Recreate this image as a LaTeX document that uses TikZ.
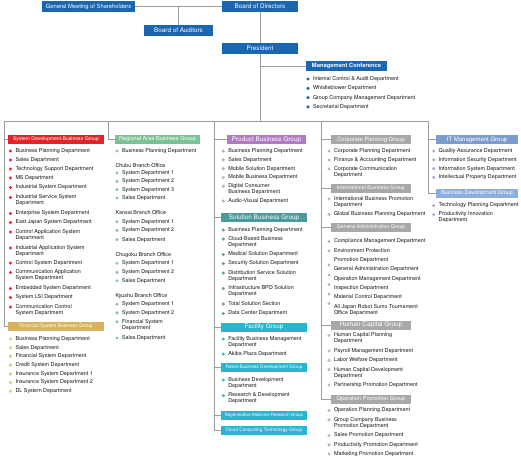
\documentclass[tikz,border=0pt]{standalone}
\usepackage{fontspec}
\setmainfont{TeX Gyre Heros}
\definecolor{topblue}{HTML}{1B66B1}
\definecolor{sdred}{HTML}{E22328}
\definecolor{fingold}{HTML}{D8B35E}
\definecolor{finb}{HTML}{E2C47A}
\definecolor{reggreen}{HTML}{7CC195}
\definecolor{regb}{HTML}{86C79E}
\definecolor{prodpurple}{HTML}{B07BC1}
\definecolor{prodb}{HTML}{C8A2D6}
\definecolor{solteal}{HTML}{4B9A9D}
\definecolor{solb}{HTML}{5AA3A6}
\definecolor{cyanh}{HTML}{27B5D0}
\definecolor{cyanb}{HTML}{3DBBD5}
\definecolor{grayh}{HTML}{A8A8A8}
\definecolor{grayb}{HTML}{B8B8B8}
\definecolor{ith}{HTML}{7C9CCF}
\definecolor{itb}{HTML}{9AB2DA}
\definecolor{bdh}{HTML}{8DAFE0}
\definecolor{linegray}{HTML}{9C9C9C}
\definecolor{txt}{HTML}{111111}
\tikzset{
  ln/.style={draw=linegray, line width=0.7pt},
  hbox/.style={anchor=north west, inner sep=0pt, outer sep=0pt, text=white, align=center},
  bul/.style={circle, inner sep=0pt, outer sep=0pt, minimum size=3.4pt},
  itx/.style={anchor=west, inner sep=0pt, outer sep=0pt, align=left, text=txt, font=\fontsize{5.4}{6}\selectfont},
}
\newcounter{nn}
% name, x, y, width, height, colour, font size, text
\newcommand\hdr[8]{\node[hbox, fill=#6, minimum width=#4pt, minimum height=#5pt, font=\fontsize{#7}{#7}\selectfont] (#1) at (#2,#3) {#8};}
\newcommand\itm[4]{\stepcounter{nn}\node[bul, fill=#3] (b\thenn) at (#1,#2) {};\node[itx] (t\thenn) at (#1+5,#2) {#4};}
\newcommand\itmm[5]{\stepcounter{nn}\node[bul, fill=#3] (b\thenn) at (#1,#2) {};\node[itx] (t\thenn) at (#1+5,#2+3) {#4\\#5};}
\newcommand\lbl[3]{\stepcounter{nn}\node[itx] (l\thenn) at (#1,#2) {#3};}
\newcommand\bulo[3]{\stepcounter{nn}\node[bul, fill=#3] (o\thenn) at (#1,#2) {};}
\begin{document}
\begin{tikzpicture}[x=1pt,y=-1pt]
\useasboundingbox (0,0) rectangle (521,459);
\fill[white] (0,0) rectangle (521,459);
% ---- top
\hdr{gms}{42}{1}{93}{11}{topblue}{5.8}{General Meeting of Shareholders}
\hdr{bod}{222}{1}{76}{11}{topblue}{6.3}{Board of Directors}
\hdr{aud}{144}{24.5}{69}{11}{topblue}{6.3}{Board of Auditors}
\hdr{pres}{222}{42.5}{76}{11}{topblue}{6.3}{President}
\hdr{mgmt}{306}{61}{81}{10}{topblue}{5.8}{\bfseries Management Conference}
\itm{308}{79}{topblue}{Internal Control \& Audit Department}
\itm{308}{88.3}{topblue}{Whistleblower Department}
\itm{308}{97.6}{topblue}{Group Company Management Department}
\itm{308}{106.9}{topblue}{Secretarial Department}
% ---- bus coordinates
\coordinate (k1) at (4,121);
\coordinate (k2) at (108,121);
\coordinate (k3) at (214,121);
\coordinate (k4) at (321,121);
\coordinate (k5) at (428,121);
\coordinate (kp) at (260,121);
% ---- column 1
\hdr{sysdev}{8}{135}{96}{9}{sdred}{5.1}{System Development Business Group}
\itm{10.5}{151}{sdred}{Business Planning Department}
\itm{10.5}{160}{sdred}{Sales Department}
\itm{10.5}{169}{sdred}{Technology Support Department}
\itm{10.5}{178}{sdred}{MS Department}
\itm{10.5}{187.5}{sdred}{Industrial System Department}
\itmm{10.5}{197.5}{sdred}{Industrial Service System}{Department}
\itm{10.5}{213.5}{sdred}{Enterprise System Department}
\itm{10.5}{222.5}{sdred}{East Japan System Department}
\itmm{10.5}{232}{sdred}{Control Application System}{Department}
\itmm{10.5}{248}{sdred}{Industrial Application System}{Department}
\itm{10.5}{263}{sdred}{Control System Department}
\itmm{10.5}{272.5}{sdred}{Communication Application}{System Department}
\itm{10.5}{288.5}{sdred}{Embedded System Department}
\itm{10.5}{297.5}{sdred}{System LSI Department}
\itmm{10.5}{307}{sdred}{Communication Control}{System Department}
\hdr{fin}{8}{322}{96}{9}{fingold}{4.9}{Financial System Business Group}
\itm{10.5}{339}{finb}{Business Planning Department}
\itm{10.5}{347.7}{finb}{Sales Department}
\itm{10.5}{356.4}{finb}{Financial System Department}
\itm{10.5}{365.1}{finb}{Credit System Department}
\itm{10.5}{373.8}{finb}{Insurance System Department 1}
\itm{10.5}{382.5}{finb}{Insurance System Department 2}
\itm{10.5}{391.2}{finb}{DL System Department}
% ---- column 2
\hdr{regional}{115}{135}{85}{9}{reggreen}{5.6}{Regional Area Business Group}
\itm{117}{151}{regb}{Business Planning Department}
\lbl{115.5}{165.5}{Chubu Branch Office}
\itm{117}{173}{regb}{System Department 1}
\itm{117}{181.3}{regb}{System Department 2}
\itm{117}{189.6}{regb}{System Department 3}
\itm{117}{198}{regb}{Sales Department}
\lbl{115.5}{212.9}{Kansai Branch Office}
\itm{117}{221.7}{regb}{System Department 1}
\itm{117}{230.4}{regb}{System Department 2}
\itm{117}{239.6}{regb}{Sales Department}
\lbl{115.5}{254.9}{Chugoku Branch Office}
\itm{117}{263.2}{regb}{System Department 1}
\itm{117}{272.4}{regb}{System Department 2}
\itm{117}{280.7}{regb}{Sales Department}
\lbl{115.5}{296}{Kyushu Branch Office}
\itm{117}{304.2}{regb}{System Department 1}
\itm{117}{312.9}{regb}{System Department 2}
\itmm{117}{321.7}{regb}{Financial System}{Department}
\itm{117}{338}{regb}{Sales Department}
% ---- column 3
\hdr{product}{227}{135}{79}{9}{prodpurple}{6.4}{Product Business Group}
\itm{223.3}{151}{prodb}{Business Planning Department}
\itm{223.3}{159.8}{prodb}{Sales Department}
\itm{223.3}{168.6}{prodb}{Mobile Solution Department}
\itm{223.3}{177.4}{prodb}{Mobile Business Department}
\itmm{223.3}{186.2}{prodb}{Digital Consumer}{Business Department}
\itm{223.3}{201}{prodb}{Audio-Visual Department}
\hdr{solution}{221}{213}{86}{9}{solteal}{6.4}{Solution Business Group}
\itm{223.3}{230}{solb}{Business Planning Department}
\itmm{223.3}{239}{solb}{Cloud-Based Business}{Department}
\itm{223.3}{254.5}{solb}{Medical Solution Department}
\itm{223.3}{263.5}{solb}{Security Solution Department}
\itmm{223.3}{273}{solb}{Distribution Service Solution}{Department}
\itmm{223.3}{288.5}{solb}{Infrastructure BPO Solution}{Department}
\itm{223.3}{304}{solb}{Total Solution Section}
\itm{223.3}{313.5}{solb}{Data Center Department}
\hdr{facility}{221}{322.5}{86}{9}{cyanh}{6.3}{Facility Group}
\itmm{223.3}{339}{cyanb}{Facility Business Management}{Department}
\itm{223.3}{354}{cyanb}{Akiba Plaza Department}
\hdr{robot}{221}{363}{86}{9}{cyanh}{4.75}{Robot Business Development Group}
\itmm{223.3}{380}{cyanb}{Business Development}{Department}
\itmm{223.3}{395.5}{cyanb}{Research \& Development}{Department}
\hdr{regen}{221}{411}{86}{9}{cyanh}{4.4}{Regenerative Medicine Research Group}
\hdr{cloud}{221}{426}{86}{9}{cyanh}{4.75}{Cloud Computing Technology Group}
% ---- column 4
\hdr{corp}{331}{135}{80}{9}{grayh}{5.8}{Corporate Planning Group}
\itm{329}{151}{grayb}{Corporate Planning Department}
\itm{329}{160}{grayb}{Finance \& Accounting Department}
\itmm{329}{169}{grayb}{Corporate Communication}{Department}
\hdr{intl}{331}{184}{80}{9}{grayh}{5.3}{International Business Group}
\itmm{329}{199}{grayb}{International Business Promotion}{Department}
\itm{329}{214.3}{grayb}{Global Business Planning Department}
\hdr{genadm}{331}{223}{80}{9}{grayh}{5.2}{General Administration Group}
\itm{329}{241.5}{grayb}{Compliance Management Department}
\itm{329}{250.8}{grayb}{Environment Protection}
\lbl{334}{260.1}{Promotion Department}
\bulo{329}{265}{grayb}
\lbl{334}{269.4}{General Administration Department}
\bulo{329}{275}{grayb}
\lbl{334}{278.7}{Operation Management Department}
\bulo{329}{284.5}{grayb}
\lbl{334}{288}{Inspection Department}
\bulo{329}{294}{grayb}
\lbl{334}{297.3}{Material Control Department}
\bulo{329}{303.5}{grayb}
\node[itx] (sumo) at (334,309.6) {All Japan Robot Sumo Tournament\\Office Department};
\hdr{humcap}{331}{320.5}{80}{9}{grayh}{6.5}{Human Capital Group}
\itmm{329}{335.5}{grayb}{Human Capital Planning}{Department}
\itm{329}{351}{grayb}{Payroll Management Department}
\itm{329}{360.3}{grayb}{Labor Welfare Department}
\itmm{329}{369.6}{grayb}{Human Capital Development}{Department}
\itm{329}{385}{grayb}{Partnership Promotion Department}
\hdr{oppro}{331}{394.5}{80}{9}{grayh}{5.6}{Operation Promotion Group}
\itm{329}{410.5}{grayb}{Operation Planning Department}
\itmm{329}{419.8}{grayb}{Group Company Business}{Promotion Department}
\itm{329}{435.5}{grayb}{Sales Promotion Department}
\itm{329}{444.8}{grayb}{Productivity Promotion Department}
\itm{329}{454}{grayb}{Marketing Promotion Department}
% ---- column 5
\hdr{itmg}{436}{135}{82}{9}{ith}{6.0}{IT Management Group}
\itm{433.7}{151}{itb}{Quality Assurance Department}
\itm{433.7}{159.8}{itb}{Information Security Department}
\itm{433.7}{168.6}{itb}{Information System Department}
\itm{433.7}{177.4}{itb}{Intellectual Property Department}
\hdr{bizdev}{436}{189}{82}{9}{bdh}{5.4}{Business Development Group}
\itm{433.7}{205.5}{itb}{Technology Planning Department}
\itmm{433.7}{214.5}{itb}{Productivity Innovation}{Department}
% ---- connectors
\draw[ln] (gms.east) -- (bod.west);
\draw[ln] (aud.north) -- (aud.north |- gms.east);
\draw[ln] (bod.south) -- (pres.north);
\draw[ln] (pres.south) -- (kp);
\draw[ln] (mgmt.west) -- (mgmt.west -| kp);
\draw[ln] (k1) -- (k5);
\draw[ln] (k1) |- (sysdev.west);
\draw[ln] (k1) |- (fin.west);
\draw[ln] (k2) |- (regional.west);
\draw[ln] (k3) |- (product.west);
\draw[ln] (k3) |- (solution.west);
\draw[ln] (k3) |- (facility.west);
\draw[ln] (k3) |- (robot.west);
\draw[ln] (k3) |- (regen.west);
\draw[ln] (k3) |- (cloud.west);
\draw[ln] (k4) |- (corp.west);
\draw[ln] (k4) |- (intl.west);
\draw[ln] (k4) |- (genadm.west);
\draw[ln] (k4) |- (humcap.west);
\draw[ln] (k4) |- (oppro.west);
\draw[ln] (k5) |- (itmg.west);
\draw[ln] (k5) |- (bizdev.west);
\end{tikzpicture}
\end{document}
